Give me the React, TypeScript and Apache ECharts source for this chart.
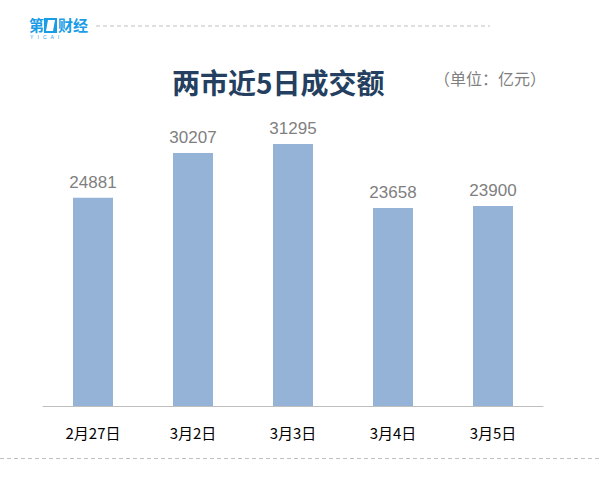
import React, { useEffect, useRef } from "react";
import * as echarts from "echarts";

const categories = ["2月27日", "3月2日", "3月3日", "3月4日", "3月5日"];
const values = [24881, 30207, 31295, 23658, 23900];
const titleText = "两市近5日成交额";
const unitText = "（单位：亿元）";

export default function App() {
  const ref = useRef<HTMLDivElement>(null);
  useEffect(() => {
    const chart = echarts.init(ref.current!, null, { renderer: "svg" });
    const blue = "#1a9de6";
    chart.setOption({
      animation: false,
      backgroundColor: "#ffffff",
      grid: { left: 43, right: 57, top: 113, bottom: 72 },
      xAxis: {
        type: "category",
        data: categories,
        axisLine: { lineStyle: { color: "#bfbfbf", width: 1 } },
        axisTick: { show: false },
        axisLabel: {
          color: "#000000",
          fontSize: 15,
          margin: 19,
          fontFamily: "Noto Sans CJK SC, sans-serif",
        },
      },
      yAxis: {
        type: "value",
        min: 0,
        max: 35000,
        show: false,
        splitLine: { show: false },
      },
      series: [
        {
          type: "bar",
          data: values,
          barWidth: 40,
          itemStyle: { color: "#95b3d7" },
          label: {
            show: true,
            position: "top",
            distance: 7,
            color: "#7f7f7f",
            fontSize: 17,
            fontFamily: "Liberation Sans, Arial, sans-serif",
          },
        },
      ],
      graphic: [
        {
          type: "text",
          x: 172,
          y: 82,
          style: {
            text: titleText,
            fill: "#243f60",
            font: "bold 28px 'Noto Sans CJK SC', sans-serif",
            verticalAlign: "middle",
          },
        },
        {
          type: "text",
          x: 434,
          y: 78,
          style: {
            text: unitText,
            fill: "#7f7f7f",
            font: "16px 'Noto Sans CJK SC', sans-serif",
            verticalAlign: "middle",
          },
        },
        {
          type: "line",
          shape: { x1: 96, y1: 26, x2: 490, y2: 26 },
          style: { stroke: "#bfbfbf", lineWidth: 1, lineDash: [4, 3] },
        },
        {
          type: "line",
          shape: { x1: 0, y1: 458.5, x2: 600, y2: 458.5 },
          style: { stroke: "#bfbfbf", lineWidth: 1, lineDash: [4, 3] },
        },
        {
          type: "text",
          x: 29,
          y: 17,
          style: {
            text: "第",
            fill: blue,
            font: "bold 15px 'Noto Sans CJK SC', sans-serif",
          },
        },
        {
          type: "rect",
          shape: { x: 44, y: 18, width: 13, height: 15 },
          style: { fill: blue },
        },
        {
          type: "polygon",
          shape: { points: [[48, 20], [55, 20], [53, 31], [46, 31]] },
          style: { fill: "#ffffff" },
        },
        {
          type: "text",
          x: 58,
          y: 17,
          style: {
            text: "财经",
            fill: blue,
            font: "bold 15px 'Noto Sans CJK SC', sans-serif",
          },
        },
        {
          type: "text",
          x: 30,
          y: 34,
          style: {
            text: "Y   I   C   A   I",
            fill: blue,
            font: "5px sans-serif",
          },
        },
      ],
    });
    return () => chart.dispose();
  }, []);
  return <div ref={ref} style={{ width: 600, height: 478, position: "absolute", left: 0, top: 0 }} />;
}
